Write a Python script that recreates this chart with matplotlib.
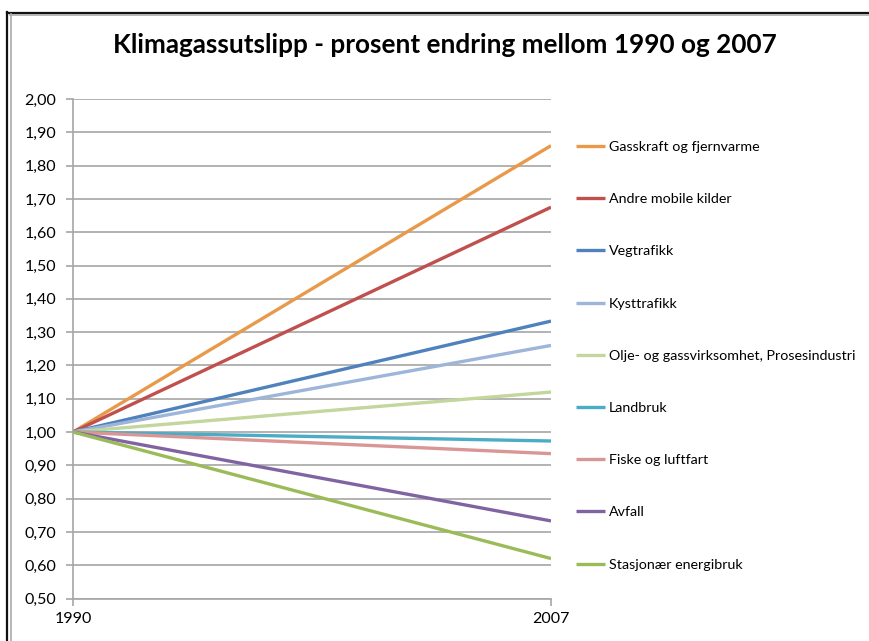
import matplotlib
matplotlib.use("Agg")
import matplotlib.pyplot as plt
from matplotlib.lines import Line2D

plt.rcParams['font.family'] = ['Lato', 'DejaVu Sans']

# data: indeks 1990 = 1,00
years = ['1990', '2007']
serier = ['Gasskraft og fjernvarme', 'Andre mobile kilder', 'Vegtrafikk',
          'Kysttrafikk', 'Olje- og gassvirksomhet, Prosesindustri', 'Landbruk',
          'Fiske og luftfart', 'Avfall', 'Stasjonær energibruk']
verdi_1990 = [1.00, 1.00, 1.00, 1.00, 1.00, 1.00, 1.00, 1.00, 1.00]
verdi_2007 = [1.86, 1.675, 1.333, 1.26, 1.12, 0.973, 0.935, 0.733, 0.62]
farger = ['#E8994A', '#C0504D', '#4F81BD', '#9DB5D9', '#C3D69B',
          '#4BACC6', '#D99694', '#8064A2', '#9BBB59']
yticks = [0.5 + 0.1 * i for i in range(16)]

W, H = 869, 641
fig = plt.figure(figsize=(W / 100, H / 100), dpi=100)

# ramme rundt diagrammet
fig.add_artist(Line2D([7.5 / W, 7.5 / W], [0, 1 - 12 / H], color='#111111', lw=1.6))
fig.add_artist(Line2D([7.5 / W, 1], [1 - 12.5 / H, 1 - 12.5 / H], color='#111111', lw=1.6))
fig.add_artist(Line2D([10.5 / W, 10.5 / W], [0, 1 - 14 / H], color='#AAAAAA', lw=1.2))
fig.add_artist(Line2D([10 / W, 1], [1 - 15 / H, 1 - 15 / H], color='#AAAAAA', lw=1.2))

ax = fig.add_axes([73 / W, 1 - 598.5 / H, (551 - 73) / W, (598.5 - 99) / H])

for i in range(len(serier)):
    ax.plot([0, 1], [verdi_1990[i], verdi_2007[i]], color=farger[i], lw=2.4,
            solid_capstyle='butt', label=serier[i], zorder=3)

ax.set_xlim(0, 1)
ax.set_ylim(0.5, 2.0)
ax.set_yticks(yticks)
ax.set_yticklabels([f'{v:.2f}'.replace('.', ',') for v in yticks], fontsize=11.5)
ax.set_xticks([0, 1])
ax.set_xticklabels(years, fontsize=11.5)
ax.grid(axis='y', color='#A6A6A6', lw=1.2, zorder=0)
for s in ['top', 'right']:
    ax.spines[s].set_visible(False)
for s in ['left', 'bottom']:
    ax.spines[s].set_color('#A6A6A6')
    ax.spines[s].set_linewidth(1.2)
ax.tick_params(axis='y', length=5, width=1.2, color='#A6A6A6', pad=7)
ax.tick_params(axis='x', length=5, width=1.2, color='#A6A6A6', pad=5)

fig.text(445 / W, 1 - 45 / H, 'Klimagassutslipp - prosent endring mellom 1990 og 2007',
         ha='center', va='center', fontsize=18.8, fontweight='bold')

leg = ax.legend(loc='upper left', bbox_to_anchor=(563 / W, 1 - 128 / H),
                bbox_transform=fig.transFigure, frameon=False, fontsize=10.3,
                handlelength=2.05, handletextpad=0.25, labelspacing=2.81)

fig.savefig('out.png', dpi=100)
